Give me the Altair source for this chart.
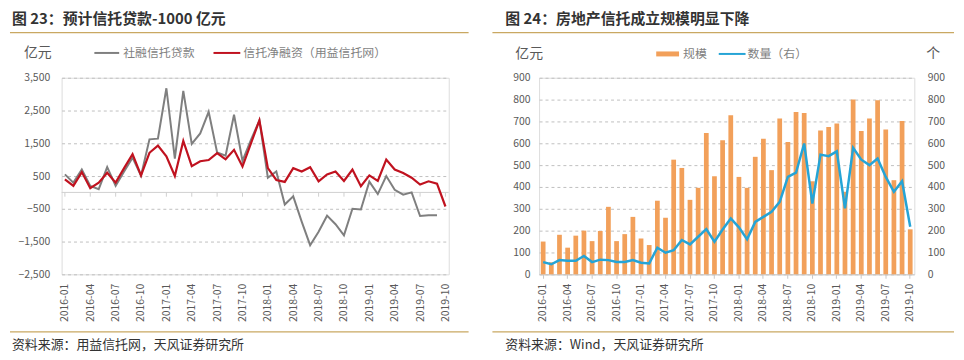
import altair as alt
import pandas as pd

FONT = "Noto Sans CJK SC"

months = [f"{y}-{m:02d}" for y in (2016, 2017, 2018, 2019) for m in range(1, 13)][:46]
quarter_labels = months[::3]

# 图23 (亿元)
tsf_trust_loans = [550, 300, 700, 200, 100, 770, 200, 640, 1060, 510,
                   1620, 1640, 3180, 1030, 3100, 1480, 1800, 2460, 1220, 1120,
                   2370, 960, 1600, 2200, 450, 640, -370, -120, -890, -1610,
                   -1200, -710, -970, -1310, -500, -520, 330, -50, 500, 80,
                   -70, 0, -720, -700, -700, None]
trust_net_financing = [400, 200, 620, 130, 300, 600, 300, 740, 1170, 520,
                       1210, 1430, 1100, 500, 1570, 800, 950, 990, 1200, 1010,
                       1300, 790, 1500, 2200, 740, 380, 320, 740, 640, 770,
                       340, 550, 640, 350, 700, 190, 520, 350, 1000, 700,
                       590, 450, 240, 340, 265, -430]

# 图24
re_scale = [150, 55, 181, 122, 177, 200, 152, 198, 309, 152,
            184, 263, 164, 134, 337, 259, 525, 487, 341, 396,
            647, 449, 614, 728, 446, 396, 538, 621, 477, 713,
            606, 743, 739, 426, 659, 675, 690, 378, 801, 656,
            713, 797, 663, 431, 702, 206]
re_count = [56, 46, 65, 62, 62, 84, 56, 67, 65, 56,
            56, 65, 53, 50, 122, 99, 110, 157, 137, 172,
            207, 149, 205, 256, 215, 160, 240, 263, 286, 332,
            446, 466, 599, 324, 548, 541, 563, 302, 579, 525,
            500, 530, 446, 378, 426, 218]

left_yticks = [-2500, -1500, -500, 500, 1500, 2500, 3500]
right_yticks = [0, 100, 200, 300, 400, 500, 600, 700, 800, 900]

GOLD = "#c9a862"
GRAY = "#7f7f7f"
RED = "#c0121f"
ORANGE = "#f2a05a"
BLUE = "#25a4d6"
LABEL = "#595959"
GRID = "#bfbfbf"

one = pd.DataFrame({"k": [0]})


def text(t, x, y, size=12, color=LABEL, weight="normal"):
    return alt.Chart(one).mark_text(text=t, align="left", baseline="middle",
                                    fontSize=size, color=color, fontWeight=weight, font=FONT
                                    ).encode(x=alt.value(x), y=alt.value(y))


def hline(x1, x2, y, color, width=1.0, opacity=1.0):
    return alt.Chart(one).mark_rule(color=color, strokeWidth=width, opacity=opacity).encode(
        x=alt.value(x1), x2=alt.value(x2), y=alt.value(y))


# ---------------- Left panel ----------------
LW, LH = 390, 198
df_l = pd.DataFrame({"month": months, "gray": tsf_trust_loans, "red": trust_net_financing})

x_l = alt.X("month:O", sort=months, scale=alt.Scale(type="point", padding=0.39),
            axis=alt.Axis(values=quarter_labels, labelAngle=-90, ticks=False, domain=False,
                          labelPadding=9, title=None, grid=False, labelFontSize=10.5,
                          labelColor=LABEL, labelFont=FONT, labelOverlap=False))
y_l = alt.Y("v:Q", scale=alt.Scale(domain=[-2500, 3500], nice=False, zero=False),
            axis=alt.Axis(values=left_yticks, format=",.0f", grid=True, gridDash=[3, 3],
                          gridColor=GRID, ticks=False, domain=False, labelPadding=12,
                          labelOverlap=False, title=None, labelFontSize=10.5,
                          labelColor=LABEL, labelFont=FONT))

gray_line = alt.Chart(df_l).transform_filter("datum.gray != null").transform_calculate(
    v="datum.gray").mark_line(color=GRAY, strokeWidth=2).encode(x=x_l, y=y_l)
red_line = alt.Chart(df_l).transform_calculate(v="datum.red").mark_line(
    color=RED, strokeWidth=2.2).encode(x=x_l, y=y_l)

zero_rule = alt.Chart(pd.DataFrame({"v": [0]})).mark_rule(
    color="#d0d0d0", strokeWidth=1).encode(y=y_l, x=alt.value(0), x2=alt.value(LW))
zero_ticks = alt.Chart(pd.DataFrame({"month": quarter_labels})).transform_calculate(
    v="0", v2="-130").mark_rule(color="#d0d0d0").encode(x=x_l, y=y_l, y2="v2:Q")

left = alt.layer(
    zero_rule, zero_ticks, gray_line, red_line,
    hline(-52, 410, -68, "#ffffff", 1, 0),
    text("图 23：预计信托贷款-1000 亿元", -50, -59.5, 15, "#333333", "bold"),
    hline(-52, 410, -45.5, GOLD, 1.2),
    text("亿元", -38, -25, 14, LABEL),
    hline(33, 58, -25, GRAY, 2),
    text("社融信托贷款", 62, -25, 12, GRAY),
    hline(153, 180, -25, RED, 2),
    text("信托净融资（用益信托网）", 183, -25, 12, GRAY),
    hline(-52, 410, 256, GOLD, 1.2),
    text("资料来源：用益信托网，天风证券研究所", -50, 269, 13, "#333333"),
).properties(width=LW, height=LH)

# ---------------- Right panel ----------------
RW, RH = 378, 198
df_r = pd.DataFrame({"month": months, "scale": re_scale, "count": re_count})

x_r = alt.X("month:O", sort=months,
            scale=alt.Scale(type="band", paddingInner=0.42, paddingOuter=0.21),
            axis=alt.Axis(values=quarter_labels, labelAngle=-90, ticks=True, tickSize=4,
                          tickColor="#c8c8c8", domain=True, domainColor="#c8c8c8",
                          labelPadding=5, title=None, grid=False, labelFontSize=10.5,
                          labelColor=LABEL, labelFont=FONT, labelOverlap=False))

bars = alt.Chart(df_r).mark_bar(color=ORANGE).encode(
    x=x_r,
    y=alt.Y("scale:Q", scale=alt.Scale(domain=[0, 900], nice=False),
            axis=alt.Axis(values=right_yticks, grid=True, gridDash=[3, 3], gridColor=GRID,
                          ticks=False, domain=False, labelPadding=9, title=None,
                          labelOverlap=False, labelFontSize=10.5, labelColor=LABEL,
                          labelFont=FONT)))
count_line = alt.Chart(df_r).mark_line(color=BLUE, strokeWidth=2.5).encode(
    x=x_r,
    y=alt.Y("count:Q", scale=alt.Scale(domain=[0, 900], nice=False),
            axis=alt.Axis(values=right_yticks, orient="right", grid=False, ticks=False,
                          domain=False, labelPadding=13, title=None, labelOverlap=False,
                          labelFontSize=10.5, labelColor=LABEL, labelFont=FONT)))

right = alt.layer(
    bars, count_line,
    hline(-47, 418, -68, "#ffffff", 1, 0),
    text("图 24：房地产信托成立规模明显下降", -34, -59.5, 15, "#333333", "bold"),
    hline(-47, 418, -45.5, GOLD, 1.2),
    text("亿元", -24, -24, 14, LABEL),
    text("个", 390, -24, 14, LABEL),
    alt.Chart(one).mark_rect(color=ORANGE).encode(
        x=alt.value(118), x2=alt.value(141), y=alt.value(-26.5), y2=alt.value(-21.5)),
    text("规模", 145, -24, 12, GRAY),
    hline(181, 208, -24, BLUE, 2),
    text("数量（右）", 210, -24, 12, GRAY),
    hline(-47, 418, 256, GOLD, 1.2),
    text("资料来源：Wind，天风证券研究所", -34, 269, 13, "#333333"),
).resolve_scale(y="independent").properties(width=RW, height=RH)

chart = alt.hconcat(left, right, spacing=20).properties(padding=0).configure_view(
    stroke=None).configure(font=FONT)

chart.save("out.html", embed_options={"renderer": "svg", "actions": False})
